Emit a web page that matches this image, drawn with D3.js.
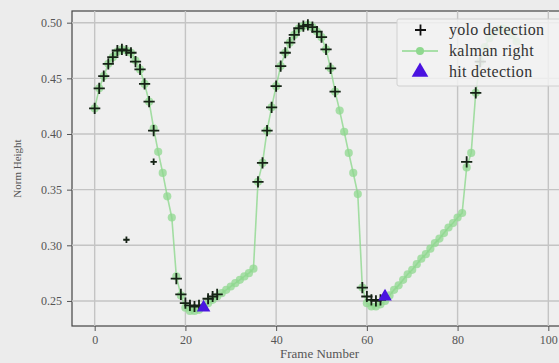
<!DOCTYPE html>
<html>
<head>
<meta charset="utf-8">
<script src="https://cdn.jsdelivr.net/npm/d3@7"></script>
<style>
  body { margin: 0; background: #ececec; }
  svg { display: block; }
</style>
</head>
<body>
<div id="chart"></div>
<script>
// frame numbers and values
const kalmanFrames = [
  0, 1, 2, 3, 4, 5, 6, 7, 8, 9, 10, 11, 12, 13, 14, 15, 16, 17, 18, 19,
  20, 21, 22, 23, 24, 25, 26, 27, 28, 29, 30, 31, 32, 33, 34, 35,
  36, 37, 38, 39, 40, 41, 42, 43, 44, 45, 46, 47, 48, 49, 50, 51, 52, 53,
  54, 55, 56, 57, 58, 59, 60, 61, 62, 63, 64, 65, 66, 67, 68, 69, 70, 71,
  72, 73, 74, 75, 76, 77, 78, 79, 80, 81, 82, 83, 84,
  85, 86, 87, 88, 89, 90, 91, 92, 93
];
const kalmanRight = [
  0.423, 0.441, 0.452, 0.463, 0.469, 0.474, 0.476, 0.475, 0.473, 0.466, 0.458, 0.445, 0.429, 0.405, 0.384, 0.365, 0.344, 0.325, 0.272, 0.255,
  0.244, 0.241, 0.241, 0.242, 0.245, 0.248, 0.251, 0.254, 0.257, 0.260, 0.263, 0.266, 0.269, 0.272, 0.275, 0.279,
  0.357, 0.374, 0.403, 0.424, 0.443, 0.461, 0.473, 0.482, 0.489, 0.495, 0.497, 0.498, 0.496, 0.492, 0.487, 0.476, 0.459, 0.438,
  0.421, 0.402, 0.383, 0.365, 0.346, 0.262, 0.248, 0.245, 0.245, 0.247, 0.250, 0.255, 0.260, 0.264, 0.269, 0.274, 0.278, 0.283,
  0.288, 0.292, 0.297, 0.302, 0.306, 0.311, 0.316, 0.320, 0.325, 0.329, 0.370, 0.383, 0.437,
  0.465, 0.478, 0.486, 0.491, 0.494, 0.495, 0.493, 0.489, 0.483
];
const yoloFrames = [
  0, 1, 2, 3, 4, 5, 6, 7, 8, 9, 10, 11, 12, 13, 7, 13,
  18, 19, 20, 21, 22, 23, 25, 26, 27,
  36, 37, 38, 39, 40, 41, 42, 43, 44, 45, 46, 47, 48, 49, 50, 51, 52, 53,
  59, 60, 61, 62, 63, 82, 84, 85
];
const yoloDetection = [
  0.423, 0.441, 0.452, 0.463, 0.469, 0.475, 0.476, 0.475, 0.473, 0.465, 0.458, 0.445, 0.429, 0.403, 0.305, 0.375,
  0.270, 0.256, 0.248, 0.246, 0.245, 0.246, 0.252, 0.254, 0.256,
  0.357, 0.374, 0.403, 0.424, 0.443, 0.461, 0.473, 0.482, 0.489, 0.495, 0.497, 0.498, 0.496, 0.492, 0.487, 0.476, 0.459, 0.438,
  0.262, 0.254, 0.251, 0.250, 0.251, 0.375, 0.437, 0.465
];
// the two stray detections are drawn with a smaller cross
const yoloSmall = [14, 15];
const hitFrames = [24, 64];
const hitDetection = [0.244, 0.254];
const xTicks = [0, 20, 40, 60, 80, 100];
const yTicks = [0.25, 0.30, 0.35, 0.40, 0.45, 0.50];

const width = 559;
const height = 363;
const margin = {top: 11, right: -12, bottom: 37, left: 72};
const serif = '"Liberation Serif", "DejaVu Serif", serif';

const svg = d3.select('#chart').append('svg')
  .attr('width', width)
  .attr('height', height)
  .style('font-family', serif);

const defs = svg.append('defs');
defs.append('filter').attr('id', 'soft')
  .append('feGaussianBlur').attr('stdDeviation', 0.45);

svg.append('rect').attr('width', width).attr('height', height).attr('fill', '#ececec');

const x = d3.scaleLinear().domain([-5, 105]).range([margin.left, width - margin.right]);
const y = d3.scaleLinear().domain([0.2275, 0.5105]).range([height - margin.bottom, margin.top]);

// plot area
svg.append('rect')
  .attr('x', x.range()[0]).attr('y', y.range()[1])
  .attr('width', x.range()[1] - x.range()[0])
  .attr('height', y.range()[0] - y.range()[1])
  .attr('fill', '#efefef')
  .attr('stroke', '#444')
  .attr('stroke-width', 1.2);

// grid
const grid = svg.append('g').attr('stroke', '#c4c4c4').attr('stroke-width', 1.4);
grid.selectAll('.gx').data(xTicks).join('line')
  .attr('x1', d => x(d)).attr('x2', d => x(d))
  .attr('y1', y.range()[0]).attr('y2', y.range()[1]);
grid.selectAll('.gy').data(yTicks).join('line')
  .attr('y1', d => y(d)).attr('y2', d => y(d))
  .attr('x1', x.range()[0]).attr('x2', x.range()[1]);

// axes
const xAxis = svg.append('g')
  .attr('transform', `translate(0,${y.range()[0]})`)
  .call(d3.axisBottom(x).tickValues(xTicks).tickSize(5).tickPadding(4).tickFormat(d3.format('d')));
const yAxis = svg.append('g')
  .attr('transform', `translate(${x.range()[0]},0)`)
  .call(d3.axisLeft(y).tickValues(yTicks).tickSize(5).tickPadding(5).tickFormat(d3.format('.2f')));
[xAxis, yAxis].forEach(a => {
  a.select('.domain').remove();
  a.selectAll('line').attr('stroke', '#555');
  a.selectAll('text').attr('fill', '#555').style('font-size', '12px')
    .style('font-family', serif);
});

svg.append('text')
  .attr('x', (x(0) + x(100)) / 2 - 2).attr('y', 358)
  .attr('text-anchor', 'middle').attr('fill', '#555').style('font-size', '13px')
  .text('Frame Number');
svg.append('text')
  .attr('transform', `translate(21,${(y.range()[0] + y.range()[1]) / 2}) rotate(-90)`)
  .attr('text-anchor', 'middle').attr('fill', '#555').style('font-size', '11px')
  .text('Norm Height');

const plot = svg.append('g').attr('filter', 'url(#soft)');

// kalman right: green line with circle markers
const kalmanPts = kalmanFrames.map((f, i) => [f, kalmanRight[i]]);
plot.append('path')
  .datum(kalmanPts)
  .attr('fill', 'none')
  .attr('stroke', '#8fd88f')
  .attr('stroke-opacity', 0.8)
  .attr('stroke-width', 1.6)
  .attr('d', d3.line().x(d => x(d[0])).y(d => y(d[1])));
plot.selectAll('.kal').data(kalmanPts).join('circle')
  .attr('cx', d => x(d[0])).attr('cy', d => y(d[1])).attr('r', 4.1)
  .attr('fill', '#8fd88f').attr('fill-opacity', 0.75);

// yolo detection: black plus markers
const yoloPts = yoloFrames.map((f, i) => [f, yoloDetection[i], yoloSmall.includes(i)]);
plot.selectAll('.yolo').data(yoloPts).join('path')
  .attr('transform', d => `translate(${x(d[0])},${y(d[1])})`)
  .attr('d', d => {
    const s = d[2] ? 3.2 : 5.6;
    return `M${-s},0H${s}M0,${-s}V${s}`;
  })
  .attr('stroke', '#142214').attr('stroke-width', 1.8);

// hit detection: blue triangles
const hitPts = hitFrames.map((f, i) => [f, hitDetection[i]]);
plot.selectAll('.hit').data(hitPts).join('path')
  .attr('transform', d => `translate(${x(d[0])},${y(d[1])})`)
  .attr('d', d3.symbol().type(d3.symbolTriangle).size(80))
  .attr('fill', '#4a12e0');

// legend
const lg = svg.append('g').attr('transform', 'translate(397,19)');
lg.append('rect').attr('width', 175).attr('height', 67)
  .attr('fill', '#f2f2f2').attr('fill-opacity', 0.85)
  .attr('stroke', '#d0d0d0').attr('rx', 2);
const legendItems = ['yolo detection', 'kalman right', 'hit detection'];
lg.selectAll('.lt').data(legendItems).join('text')
  .attr('x', 52).attr('y', (d, i) => 16 + i * 21)
  .attr('fill', '#333').style('font-size', '16px').style('letter-spacing', '0.3px')
  .text(d => d);
lg.append('path').attr('d', 'M18,11H29M23.5,5.5V16.5').attr('stroke', '#111').attr('stroke-width', 1.8);
lg.append('line').attr('x1', 5).attr('x2', 41).attr('y1', 32).attr('y2', 32)
  .attr('stroke', '#8fd88f').attr('stroke-width', 1.6);
lg.append('circle').attr('cx', 23).attr('cy', 32).attr('r', 4).attr('fill', '#8fd88f');
lg.append('path').attr('transform', 'translate(23,53)')
  .attr('d', d3.symbol().type(d3.symbolTriangle).size(120))
  .attr('fill', '#4a12e0');
</script>
</body>
</html>
